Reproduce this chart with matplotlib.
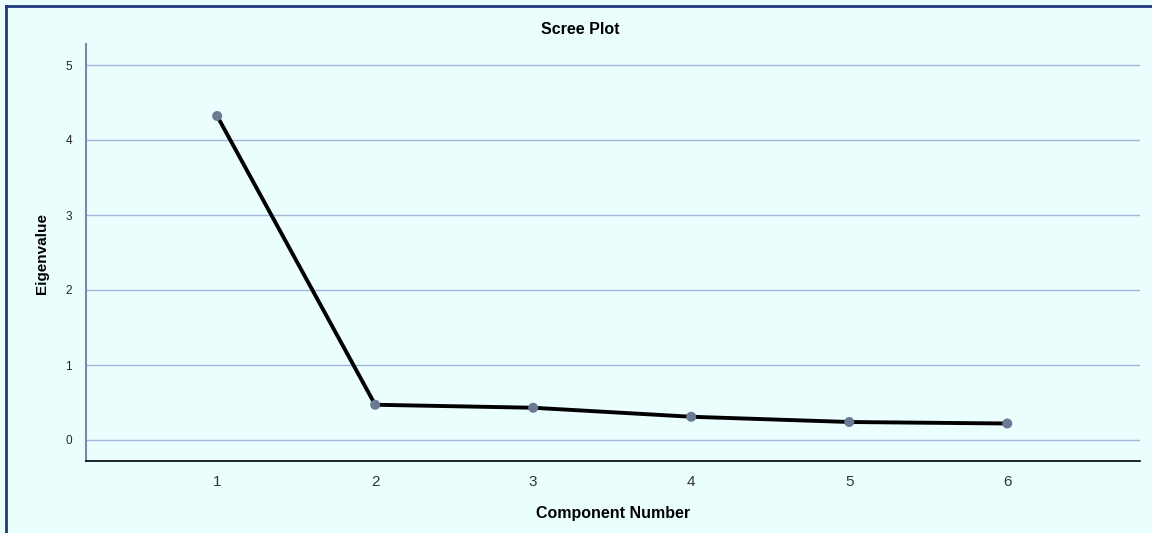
import numpy as np
import matplotlib.pyplot as plt
from matplotlib.lines import Line2D

components = [1, 2, 3, 4, 5, 6]
eigenvalues = [4.32, 0.47, 0.43, 0.31, 0.24, 0.22]
yticks = [0, 1, 2, 3, 4, 5]

W, H = 1152, 533
bg = '#ebfefe'

fig = plt.figure(figsize=(W / 100, H / 100), dpi=100)
fig.patch.set_facecolor(bg)

# axes box in pixels: left 86, right 1140, top 44, bottom 461
ax = fig.add_axes([86 / W, 1 - 461 / H, (1140 - 86) / W, (461 - 44) / H])
ax.set_facecolor(bg)

ax.plot(components, eigenvalues, color='black', lw=2.8, zorder=3,
        solid_capstyle='round')
ax.scatter(components, eigenvalues, s=52, color='#6b7a94', zorder=4,
           edgecolors='none')

ax.set_xlim(0.17, 6.84)
ax.set_ylim(-0.28, 5.28)
ax.set_yticks(yticks)
ax.set_xticks(components)
ax.grid(axis='y', color='#a3b6dc', lw=1.0, zorder=1)
ax.set_axisbelow(True)

for s in ['top', 'right']:
    ax.spines[s].set_visible(False)
ax.spines['left'].set_color('#7a8aa6')
ax.spines['left'].set_linewidth(1.5)
ax.spines['bottom'].set_color('black')
ax.spines['bottom'].set_linewidth(1.2)

ax.tick_params(axis='y', length=0, pad=10, labelsize=8.5, labelcolor='#222222')
ax.tick_params(axis='x', length=0, pad=10, labelsize=11, labelcolor='#333333')
for lab in ax.get_yticklabels() + ax.get_xticklabels():
    lab.set_family(['Liberation Sans', 'DejaVu Sans'])

ax.set_xlabel('Component Number', fontsize=11.5, fontweight='bold',
              family=['Liberation Sans', 'DejaVu Sans'], labelpad=12)
fig.text(42 / W, 1 - 253 / H, 'Eigenvalue', rotation=90, ha='center', va='center',
         fontsize=11, fontweight='bold',
         family=['Liberation Sans Narrow', 'Liberation Sans', 'DejaVu Sans'])
fig.text(580 / W, 1 - 30 / H, 'Scree Plot', ha='center', va='center',
         fontsize=11.5, fontweight='bold', family=['Liberation Sans', 'DejaVu Sans'])

# navy frame along the top and left edge
fig.add_artist(Line2D([6 / W, 6 / W], [0, 1 - 6 / H], color='#1f3a7c', lw=2,
                      transform=fig.transFigure))
fig.add_artist(Line2D([6 / W, 1], [1 - 6 / H, 1 - 6 / H], color='#1f3a7c', lw=2,
                      transform=fig.transFigure))

fig.savefig('out.png', dpi=100, facecolor=bg)
